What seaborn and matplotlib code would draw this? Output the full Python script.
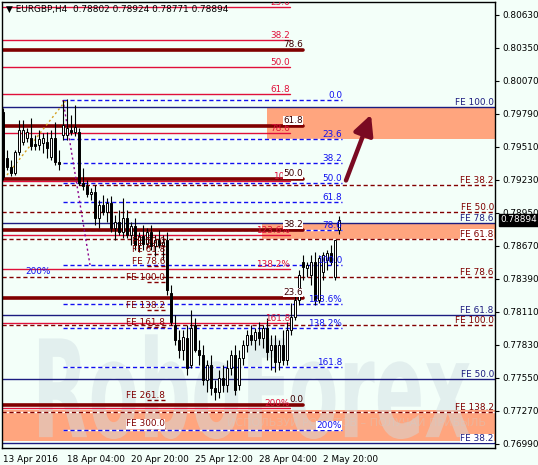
import matplotlib
matplotlib.use("Agg")
import matplotlib.pyplot as plt
import seaborn as sns
import pandas as pd
from matplotlib.textpath import TextPath
from matplotlib.patches import PathPatch
from matplotlib.font_manager import FontProperties
from matplotlib.transforms import Affine2D

# --- Dados: EURGBP, H4 ---
x_tick_bars = [0, 16, 32, 48, 64, 80]
x_tick_labels = ["13 Apr 2016", "18 Apr 04:00", "20 Apr 20:00", "25 Apr 12:00", "28 Apr 04:00", "2 May 20:00"]
price_ticks = [0.80630, 0.80350, 0.80070, 0.79790, 0.79510, 0.79230, 0.78950,
               0.78670, 0.78390, 0.78110, 0.77830, 0.77550, 0.77270, 0.76990]

opens = [0.79807, 0.79416, 0.79340, 0.79289, 0.79467, 0.79552, 0.79586, 0.79586, 0.79535, 0.79527,
         0.79544, 0.79552, 0.79425, 0.79586, 0.79382, 0.79612, 0.79612, 0.79654, 0.79637, 0.79637,
         0.79204, 0.79179, 0.79111, 0.79128, 0.78907, 0.79018, 0.78958, 0.79035, 0.78822, 0.78873,
         0.78789, 0.78907, 0.78763, 0.78839, 0.78679, 0.78754, 0.78687, 0.78789, 0.78670, 0.78721,
         0.78679, 0.78721, 0.78271, 0.77999, 0.77872, 0.77787, 0.77889, 0.77660, 0.77999, 0.77787,
         0.77745, 0.77533, 0.77660, 0.77465, 0.77431, 0.77550, 0.77490, 0.77635, 0.77745, 0.77490,
         0.77719, 0.77830, 0.77915, 0.77872, 0.77940, 0.77889, 0.77974, 0.77787, 0.77830, 0.77686,
         0.77830, 0.77703, 0.77957, 0.78067, 0.78212, 0.78534, 0.78483, 0.78424, 0.78534, 0.78212,
         0.78450, 0.78551, 0.78610, 0.78407, 0.78802]
highs = [0.79841, 0.79484, 0.79399, 0.79484, 0.79739, 0.79739, 0.79671, 0.79756, 0.79612, 0.79654,
         0.79628, 0.79637, 0.79654, 0.79722, 0.79484, 0.79909, 0.79917, 0.79781, 0.79866, 0.79671,
         0.79332, 0.79230, 0.79162, 0.79187, 0.79060, 0.79102, 0.79077, 0.79094, 0.78933, 0.78975,
         0.79077, 0.78975, 0.78873, 0.78907, 0.78789, 0.78848, 0.78822, 0.78848, 0.78763, 0.78806,
         0.78763, 0.78789, 0.78339, 0.78084, 0.77957, 0.77957, 0.77999, 0.78127, 0.78059, 0.77872,
         0.77830, 0.77703, 0.77745, 0.77533, 0.77617, 0.77660, 0.77703, 0.77787, 0.77830, 0.77787,
         0.77872, 0.77957, 0.77999, 0.77974, 0.78025, 0.77999, 0.78059, 0.77915, 0.77915, 0.77872,
         0.77957, 0.78025, 0.78186, 0.78254, 0.78467, 0.78594, 0.78534, 0.78594, 0.78619, 0.78594,
         0.78619, 0.78636, 0.78679, 0.78721, 0.78924]
lows = [0.79230, 0.79315, 0.79264, 0.79272, 0.79442, 0.79527, 0.79552, 0.79484, 0.79484, 0.79484,
        0.79459, 0.79416, 0.79399, 0.79357, 0.79315, 0.79569, 0.79569, 0.79612, 0.79603, 0.79187,
        0.79145, 0.79085, 0.79060, 0.78848, 0.78822, 0.78933, 0.78873, 0.78789, 0.78721, 0.78763,
        0.78737, 0.78737, 0.78679, 0.78636, 0.78619, 0.78636, 0.78653, 0.78636, 0.78585, 0.78653,
        0.78551, 0.78254, 0.77999, 0.77830, 0.77719, 0.77703, 0.77575, 0.77635, 0.77770, 0.77660,
        0.77490, 0.77431, 0.77406, 0.77363, 0.77380, 0.77431, 0.77431, 0.77575, 0.77406, 0.77448,
        0.77660, 0.77770, 0.77830, 0.77787, 0.77830, 0.77804, 0.77703, 0.77617, 0.77601, 0.77617,
        0.77660, 0.77660, 0.77915, 0.78042, 0.78169, 0.78381, 0.78407, 0.78339, 0.78169, 0.78186,
        0.78381, 0.78467, 0.78509, 0.78381, 0.78771]
closes = [0.79255, 0.79340, 0.79289, 0.79467, 0.79654, 0.79654, 0.79637, 0.79518, 0.79518, 0.79578,
          0.79586, 0.79501, 0.79586, 0.79382, 0.79365, 0.79696, 0.79671, 0.79637, 0.79679, 0.79204,
          0.79179, 0.79111, 0.79128, 0.78907, 0.79018, 0.78958, 0.79035, 0.78822, 0.78873, 0.78789,
          0.78907, 0.78763, 0.78839, 0.78679, 0.78754, 0.78687, 0.78789, 0.78670, 0.78721, 0.78679,
          0.78704, 0.78297, 0.78025, 0.77872, 0.77787, 0.77898, 0.77635, 0.77974, 0.77787, 0.77745,
          0.77533, 0.77660, 0.77465, 0.77431, 0.77550, 0.77490, 0.77635, 0.77745, 0.77448, 0.77719,
          0.77830, 0.77915, 0.77872, 0.77940, 0.77889, 0.77974, 0.77770, 0.77830, 0.77686, 0.77830,
          0.77703, 0.77957, 0.78067, 0.78212, 0.78424, 0.78492, 0.78509, 0.78534, 0.78212, 0.78568,
          0.78594, 0.78610, 0.78534, 0.78721, 0.78894]

# Fibo vermelho (retração)
red_levels = [0.80698, 0.80418, 0.80189, 0.79959, 0.79628, 0.79221, 0.78763, 0.78475, 0.78016, 0.77295]
red_labels = ["23.6", "38.2", "50.0", "61.8", "78.6", "100", "123.6%", "138.2%", "161.8", "200%"]
# Fibo bordô (linhas grossas)
maroon_levels = [0.80333, 0.79688, 0.79238, 0.78806, 0.78229, 0.77321]
maroon_labels = ["78.6", "61.8", "50.0", "38.2", "23.6", "0.0"]
# Fibo azul tracejado
blue_levels = [0.79909, 0.79578, 0.79374, 0.79208, 0.79044, 0.78806, 0.78509, 0.78178, 0.77974, 0.77643, 0.77109]
blue_labels = ["0.0", "23.6", "38.2", "50.0", "61.8", "78.6", "100.0", "123.6%", "138.2%", "161.8", "200%"]
# Expansões (FE)
fe_right_levels = [0.79187, 0.78960, 0.78733, 0.78411, 0.77999, 0.77265]
fe_right_labels = ["FE 38.2", "FE 50.0", "FE 61.8", "FE 78.6", "FE 100.0", "FE 138.2"]
fe_left_levels = [0.78674, 0.78602, 0.78500, 0.78364, 0.78127, 0.77982, 0.77363, 0.77125]
fe_left_labels = ["FE 50.0", "FE 61.8", "FE 78.6", "FE 100.0", "FE 138.2", "FE 161.8", "FE 261.8", "FE 300.0"]
navy_levels = [0.79849, 0.78861, 0.78087, 0.77542, 0.76998]
navy_labels = ["FE 100.0", "FE 78.6", "FE 61.8", "FE 50.0", "FE 38.2"]

# Zonas alvo (início em barras, topo, base)
zone_start = [66, 64.75, -1]
zone_top = [0.79849, 0.78861, 0.77278]
zone_bottom = [0.79578, 0.78733, 0.77015]

# Linhas de tendência pontilhadas
gold_x, gold_y = [1, 16], [0.79272, 0.79917]
purple_x, purple_y = [15, 21.75], [0.79909, 0.78509]

BG = "#F3FFF9"
RED = "#E0103A"
MAROON = "#800000"
BLUE = "#1010F0"
NAVY = "#1C1C80"
SALMON = "#FFA57E"
FS = 6.4

sns.set_theme(style="white")
plt.rcParams["font.family"] = ["DejaVu Sans"]

fig = plt.figure(figsize=(5.38, 4.65), dpi=100)
fig.patch.set_facecolor(BG)
ax = fig.add_axes([2 / 538, 17 / 465, 493 / 538, 446 / 465])
ax.set_facecolor(BG)
XMIN, XMAX = -0.25, 123
ax.set_xlim(XMIN, XMAX)
ax.set_ylim(0.76956, 0.80740)

# zonas
for xs, t, b in zip(zone_start, zone_top, zone_bottom):
    ax.fill_between([xs, XMAX + 1], b, t, color=SALMON, lw=0, zorder=1)

# marca d'água (ajustada a uma caixa em fração dos eixos)
tp = TextPath((0, 0), "RoboForex", size=1, prop=FontProperties(family="DejaVu Sans", weight="bold"))
ext = tp.get_extents()
wx0, wx1, wy0, wy1 = 0.075, 0.95, 0.02, 0.255
tr = (Affine2D().translate(-ext.x0, -ext.y0)
      .scale((wx1 - wx0) / ext.width, (wy1 - wy0) / ext.height)
      .translate(wx0, wy0) + ax.transAxes)
ax.add_patch(PathPatch(tp, transform=tr, facecolor="#cfdde2", edgecolor="none", alpha=0.45, zorder=1.5))
ax.text(0.72, 0.055, "ИСПОЛЬЗУЙ РОБОТОВ – ПОЛУЧАЙ ПРИБЫЛЬ", transform=ax.transAxes, fontsize=8,
        color="#c8d0d0", alpha=0.35, ha="center", va="center", zorder=1.5)

def dashed(y, x0, x1, color):
    ax.plot([x0, x1], [y, y], color="white", lw=1, zorder=2)
    ax.plot([x0, x1], [y, y], color=color, lw=1, ls=(0, (3, 2)), zorder=2.1)

# linhas vermelhas
for lv, lb in zip(red_levels, red_labels):
    ax.plot([XMIN, 71.75], [lv, lv], color=RED, lw=1, zorder=2)
    ax.text(71.75, lv, lb, color=RED, fontsize=FS, ha="right", va="bottom", zorder=4, clip_on=True)

# linhas bordô grossas
for lv, lb in zip(maroon_levels, maroon_labels):
    ax.plot([XMIN, 75], [lv, lv], color=MAROON, lw=2.6, zorder=2.2)
    bb = dict(facecolor="white", edgecolor="none", pad=0.3) if lb not in ("78.6", "0.0") else None
    ax.text(75, lv + 0.00008, lb, color="#3a0000", fontsize=FS, ha="right", va="bottom", zorder=4, bbox=bb)

# fibo azul
for lv, lb in zip(blue_levels, blue_labels):
    dashed(lv, 15, 84.75, BLUE)
    bb = dict(facecolor="white", edgecolor="none", pad=0.3) if lb == "200%" else None
    ax.text(84.75, lv, lb, color=BLUE, fontsize=FS, ha="right", va="bottom", zorder=4, bbox=bb)

# FE direita (tracejado bordô)
for lv, lb in zip(fe_right_levels, fe_right_labels):
    dashed(lv, XMIN, XMAX, MAROON)
    bb = dict(facecolor="white", edgecolor="none", pad=0.3) if lb in ("FE 61.8",) else None
    ax.text(XMAX - 0.3, lv, lb, color=MAROON, fontsize=FS, ha="right", va="bottom", zorder=4, bbox=bb)

# FE esquerda
for lv, lb in zip(fe_left_levels, fe_left_labels):
    dashed(lv, 36, 40.5, MAROON)
    bb = dict(facecolor="white", edgecolor="none", pad=0.3) if lb == "FE 300.0" else None
    ax.text(40.5, lv, lb, color=MAROON, fontsize=FS, ha="right", va="bottom", zorder=4, bbox=bb)

# FE azul-marinho
for lv, lb in zip(navy_levels, navy_labels):
    ax.plot([XMIN, XMAX], [lv, lv], color=NAVY, lw=1, zorder=2.3)
    bb = dict(facecolor="white", edgecolor="none", pad=0.3) if lb in ("FE 38.2",) else None
    ax.text(XMAX - 0.3, lv, lb, color=NAVY, fontsize=FS, ha="right", va="bottom", zorder=4, bbox=bb)

ax.text(5.5, 0.78450, "200%", color=BLUE, fontsize=FS, ha="left", va="center", zorder=4)

# linhas pontilhadas
sns.lineplot(x=gold_x, y=gold_y, ax=ax, color="#D4A020", lw=1, ls=(0, (1.5, 2)), zorder=2.5)
sns.lineplot(x=purple_x, y=purple_y, ax=ax, color="#8B008B", lw=1, ls=(0, (1.5, 2)), zorder=2.5)

# velas
df = pd.DataFrame({"o": opens, "h": highs, "l": lows, "c": closes})
df["i"] = range(len(df))
ax.vlines(df["i"], df["l"], df["h"], color="black", lw=0.8, zorder=3)
bull = df[df["c"] >= df["o"]]
bear = df[df["c"] < df["o"]]
ax.bar(bull["i"], bull["c"] - bull["o"], bottom=bull["o"], width=0.7, color="white",
       edgecolor="black", lw=0.7, zorder=3.1)
ax.bar(bear["i"], bear["o"] - bear["c"], bottom=bear["c"], width=0.7, color="black",
       edgecolor="black", lw=0.7, zorder=3.1)

# seta
ax.annotate("", xy=(92.25, 0.79807), xytext=(85.5, 0.79204),
            arrowprops=dict(arrowstyle="-|>,head_length=1.0,head_width=0.5", color="#7A0A22", lw=3.2),
            zorder=5)

# eixos
ax.yaxis.tick_right()
ax.set_yticks(price_ticks)
ax.set_yticklabels([f"{p:.5f}" for p in price_ticks], fontsize=FS)
ax.set_xticks(x_tick_bars)
ax.set_xticklabels(x_tick_labels, fontsize=FS, ha="left")
ax.tick_params(axis="both", direction="out", length=3, width=0.8, color="black", pad=2, colors="black")
for s in ax.spines.values():
    s.set_color("black")
    s.set_linewidth(1)
ax.set_xlabel("")
ax.set_ylabel("")

# preço atual
ax.annotate(f"{closes[-1]:.5f}", xy=(1.0, closes[-1]), xycoords=("axes fraction", "data"),
            xytext=(4, 0), textcoords="offset points", fontsize=FS, color="white", va="center",
            ha="left", bbox=dict(facecolor="black", edgecolor="black", pad=1), annotation_clip=False)

# cabeçalho
ax.text(0.008, 0.993, "▼ EURGBP,H4  0.78802 0.78924 0.78771 0.78894", transform=ax.transAxes,
        fontsize=FS, color="black", ha="left", va="top", zorder=6)

fig.savefig("out.png", dpi=100, facecolor=BG)
